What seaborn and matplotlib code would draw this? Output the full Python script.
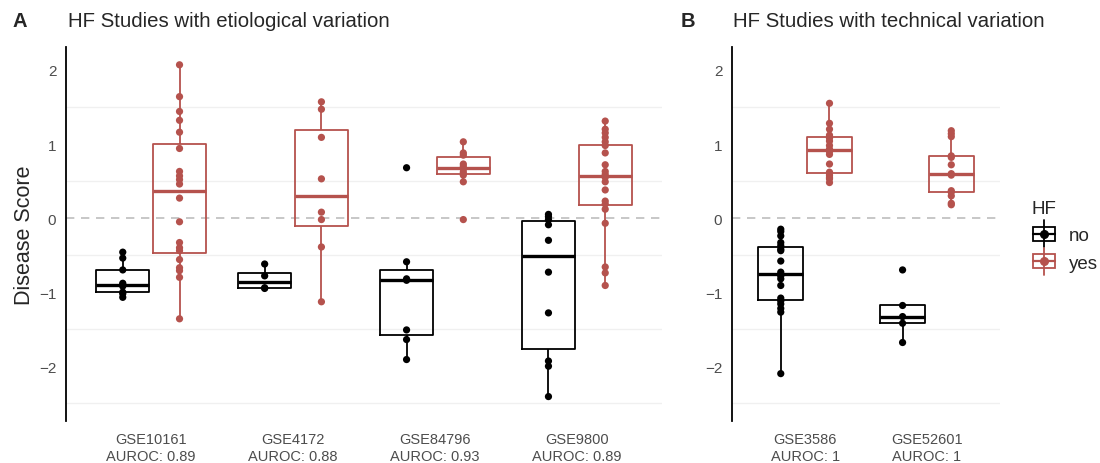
import pandas as pd
import seaborn as sns
import matplotlib.pyplot as plt
from matplotlib.legend_handler import HandlerBase
from matplotlib.patches import Rectangle
from matplotlib.lines import Line2D

# disease scores per study, split by HF status
gse10161_no = [-0.46, -0.54, -0.70, -0.88, -0.90, -0.92, -1.00, -1.02, -1.07]
gse10161_yes = [2.07, 1.64, 1.44, 1.32, 1.16, 0.94, 0.63, 0.57, 0.52, 0.46,
                0.27, -0.05, -0.33, -0.40, -0.44, -0.56, -0.67, -0.71, -0.80, -1.36]
gse4172_no = [-0.62, -0.78, -0.94, -0.95]
gse4172_yes = [1.57, 1.47, 1.09, 0.53, 0.08, -0.02, -0.39, -1.13]
gse84796_no = [0.68, -0.59, -0.82, -0.84, -1.51, -1.64, -1.91]
gse84796_yes = [1.03, 0.88, 0.85, 0.73, 0.70, 0.66, 0.62, 0.58, 0.49, -0.02]
gse9800_no = [0.05, 0.02, -0.02, -0.09, -0.30, -0.73, -1.28, -1.93, -2.00, -2.41]
gse9800_yes = [1.31, 1.20, 1.15, 1.09, 1.03, 0.98, 0.88, 0.72, 0.63, 0.59,
               0.55, 0.49, 0.38, 0.23, 0.19, 0.12, -0.07, -0.66, -0.74, -0.91]
gse3586_no = [-0.15, -0.18, -0.24, -0.33, -0.37, -0.42, -0.44, -0.58, -0.73, -0.76,
              -0.78, -0.82, -0.91, -1.08, -1.12, -1.16, -1.22, -1.27, -2.10]
gse3586_yes = [1.55, 1.28, 1.20, 1.12, 1.08, 1.04, 0.98, 0.93, 0.90, 0.86,
               0.73, 0.62, 0.58, 0.55, 0.53, 0.48]
gse52601_no = [-0.70, -1.18, -1.33, -1.42, -1.68]
gse52601_yes = [1.18, 1.14, 1.10, 0.84, 0.82, 0.72, 0.60, 0.58, 0.37, 0.35, 0.30, 0.20, 0.18]

studies_a = ["GSE10161", "GSE4172", "GSE84796", "GSE9800"]
studies_b = ["GSE3586", "GSE52601"]
auroc_a = ["0.89", "0.88", "0.93", "0.89"]
auroc_b = ["1", "1"]

groups = {
    ("GSE10161", "no"): gse10161_no, ("GSE10161", "yes"): gse10161_yes,
    ("GSE4172", "no"): gse4172_no, ("GSE4172", "yes"): gse4172_yes,
    ("GSE84796", "no"): gse84796_no, ("GSE84796", "yes"): gse84796_yes,
    ("GSE9800", "no"): gse9800_no, ("GSE9800", "yes"): gse9800_yes,
    ("GSE3586", "no"): gse3586_no, ("GSE3586", "yes"): gse3586_yes,
    ("GSE52601", "no"): gse52601_no, ("GSE52601", "yes"): gse52601_yes,
}
rows = []
for (study, hf), vals in groups.items():
    for v in vals:
        rows.append({"study": study, "HF": hf, "score": v})
df = pd.DataFrame(rows)

red = "#B5524D"
pal = {"no": "black", "yes": red}

sns.set_style("white")
plt.rcParams["font.family"] = ["Liberation Sans", "DejaVu Sans"]

fig = plt.figure(figsize=(11, 4.64), dpi=100)
ax_a = fig.add_axes([0.06, 0.0905, 0.5418, 0.806])
ax_b = fig.add_axes([0.6655, 0.0905, 0.2436, 0.806])


def draw_panel(ax, studies, aurocs):
    sub = df[df["study"].isin(studies)]
    sns.boxplot(data=sub, x="study", y="score", hue="HF", order=studies,
                hue_order=["no", "yes"], palette=pal, fill=False, width=0.8,
                gap=0.07, showfliers=False, linewidth=1.3,
                medianprops={"linewidth": 2.4}, capprops={"linewidth": 0},
                ax=ax, legend=False)
    sns.stripplot(data=sub, x="study", y="score", hue="HF", order=studies,
                  hue_order=["no", "yes"], palette=pal, dodge=True, jitter=False,
                  size=5.2, linewidth=0, ax=ax, legend=False, zorder=5)
    ax.axhline(0, color="#BDBDBD", linestyle=(0, (5, 4)), linewidth=1.2, zorder=0)
    ax.set_ylim(-2.74, 2.31)
    ax.set_xlim(-0.6, len(studies) - 0.4)
    ax.set_yticks([-2, -1, 0, 1, 2])
    ax.set_yticks([-2.5, -1.5, -0.5, 0.5, 1.5], minor=True)
    ax.grid(True, which="minor", axis="y", color="#F0F0F0", linewidth=1, zorder=0)
    ax.grid(False, which="major")
    ax.set_axisbelow(True)
    ax.set_xticks(range(len(studies)))
    ax.set_xticklabels([f"{s}\nAUROC: {a}" for s, a in zip(studies, aurocs)],
                       color="#4D4D4D", fontsize=10.5, linespacing=1.3)
    ax.tick_params(axis="y", which="both", length=0, labelcolor="#4D4D4D",
                   labelsize=11, pad=7)
    ax.tick_params(axis="x", length=0, pad=8)
    ax.set_xlabel("")
    ax.set_ylabel("")
    for side in ["top", "right", "bottom"]:
        ax.spines[side].set_visible(False)
    ax.spines["left"].set_color("black")
    ax.spines["left"].set_linewidth(1.3)


draw_panel(ax_a, studies_a, auroc_a)
draw_panel(ax_b, studies_b, auroc_b)

ax_a.set_ylabel("Disease Score", fontsize=15.5, labelpad=3)

fig.text(0.011, 0.953, "A", fontsize=14.5, fontweight="bold", va="center")
fig.text(0.062, 0.953, "HF Studies with etiological variation", fontsize=14.7, va="center")
fig.text(0.619, 0.953, "B", fontsize=14.5, fontweight="bold", va="center")
fig.text(0.6665, 0.953, "HF Studies with technical variation", fontsize=14.7, va="center")


class HandlerBox(HandlerBase):
    def create_artists(self, legend, orig_handle, xdescent, ydescent,
                       width, height, fontsize, trans):
        c = orig_handle.get_color()
        cx = width / 2 - xdescent
        cy = height / 2 - ydescent
        bw = width * 0.85
        bh = height * 0.75
        rect = Rectangle((cx - bw / 2, cy - bh / 2), bw, bh, fill=False,
                         edgecolor=c, linewidth=1.3, transform=trans)
        wl = Line2D([cx, cx], [cy - height * 0.7, cy + height * 0.7], color=c,
                    linewidth=1.3, transform=trans)
        med = Line2D([cx - bw / 2, cx + bw / 2], [cy, cy], color=c,
                     linewidth=1.6, transform=trans)
        dot = Line2D([cx], [cy], marker="o", markersize=5.5, color=c,
                     linestyle="", transform=trans)
        return [wl, rect, med, dot]


handles = [Line2D([], [], color="black"), Line2D([], [], color=red)]
fig.legend(handles, ["no", "yes"], title="HF", loc="center left",
           bbox_to_anchor=(0.922, 0.49), frameon=False, fontsize=13.5,
           title_fontsize=13.5, handler_map={Line2D: HandlerBox()},
           handlelength=1.4, handleheight=1.2, handletextpad=0.6,
           labelspacing=0.4, alignment="left")

plt.savefig("out.png", dpi=100)
